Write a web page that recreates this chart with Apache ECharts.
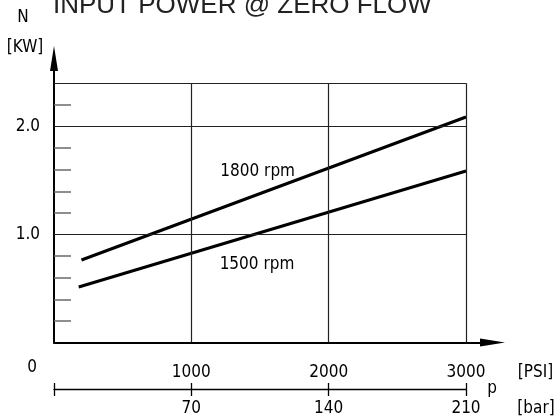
<!DOCTYPE html>
<html>
<head>
<meta charset="utf-8">
<script src="https://cdn.jsdelivr.net/npm/echarts@6/dist/echarts.min.js"></script>
<style>
  html, body { margin: 0; padding: 0; background: #fff; }
  #chart { width: 556px; height: 419px; }
</style>
</head>
<body>
<div id="chart"></div>
<script>
// Input power vs. pressure at zero flow
const titleText = 'INPUT POWER @ ZERO FLOW';

// Pressure scale [PSI] and its bar equivalent
const psiTicks = [1000, 2000, 3000];
const barTicks = [0, 70, 140, 210];
const barLabels = [70, 140, 210];

// Power scale [kW]
const kwLabels = [1, 2];
const kwMinorTicks = [0.2, 0.4, 0.6, 0.8, 1.2, 1.4, 1.6, 1.8, 2.2];
const kwFrameTop = 2.4;

// Curves: [pressure PSI, power kW]
const rpm1800 = [[200, 0.764], [3000, 2.088]];
const rpm1500 = [[180, 0.514], [3000, 1.588]];
const curveLabels = [
  { text: '1800 rpm', at: [1483, 1.58] },
  { text: '1500 rpm', at: [1478, 0.725] }
];

const FONT = "'DejaVu Sans Condensed', 'Liberation Sans', sans-serif";
const FS = 17;
const TXT = { fontFamily: FONT, fontSize: FS, color: '#000' };

const chart = echarts.init(document.getElementById('chart'), null, { renderer: 'canvas' });

// Frame lines: horizontal at 1.0, 2.0 and top; vertical at each PSI tick
const frameLines = [];
kwLabels.concat([kwFrameTop]).forEach(v => {
  frameLines.push([{ coord: [0, v] }, { coord: [psiTicks[psiTicks.length - 1], v] }]);
});
psiTicks.forEach(p => {
  frameLines.push([{ coord: [p, 0] }, { coord: [p, kwFrameTop] }]);
});

const arrowLine = {
  show: true,
  symbol: ['none', 'triangle'],
  symbolSize: [8, 25],
  lineStyle: { color: '#000', width: 2 }
};

function label(text, x, y) {
  return {
    type: 'text', x: x, y: y, silent: true,
    style: { text: text, align: 'center', verticalAlign: 'middle', font: FS + 'px ' + FONT, fill: '#000' }
  };
}

chart.setOption({
  animation: false,
  backgroundColor: '#fff',
  title: {
    text: titleText,
    left: 53,
    top: -7.5,
    padding: 0,
    textStyle: { fontFamily: "'Liberation Sans', Arial, sans-serif", fontSize: 26, fontWeight: 'normal', color: '#222' }
  },
  grid: [
    { left: 54, right: 63.5, top: 58.5, bottom: 76.5 },
    { left: 54, right: 90, bottom: 29.5, height: 20 }
  ],
  xAxis: [
    {
      type: 'value', gridIndex: 0, min: 0, max: 3193,
      axisLine: arrowLine,
      axisTick: { show: false },
      splitLine: { show: false },
      axisLabel: Object.assign({ customValues: psiTicks, margin: 22, formatter: v => String(v) }, TXT)
    },
    {
      type: 'value', gridIndex: 1, min: 0, max: 210, position: 'bottom',
      axisLine: { show: true, lineStyle: { color: '#000', width: 1.3 } },
      axisTick: { show: true, customValues: barTicks, inside: false, length: 6.5, lineStyle: { color: '#000', width: 1.3 } },
      splitLine: { show: false },
      axisLabel: Object.assign({ customValues: barLabels, margin: 10.5, formatter: v => String(v) }, TXT)
    },
    {
      type: 'value', gridIndex: 1, min: 0, max: 210, position: 'bottom',
      axisLine: { show: false },
      axisTick: { show: true, customValues: barTicks, inside: true, length: 6.5, lineStyle: { color: '#000', width: 1.3 } },
      splitLine: { show: false },
      axisLabel: { show: false }
    }
  ],
  yAxis: [
    {
      type: 'value', gridIndex: 0, min: 0, max: 2.63,
      axisLine: arrowLine,
      axisTick: { show: true, inside: true, length: 17, customValues: kwMinorTicks, lineStyle: { color: '#6a6a6a', width: 1.5 } },
      splitLine: { show: false },
      axisLabel: Object.assign({ customValues: kwLabels, margin: 14, formatter: v => v.toFixed(1) }, TXT)
    },
    { type: 'value', gridIndex: 1, min: 0, max: 1, show: false }
  ],
  series: [
    {
      name: '1800 rpm', type: 'line', xAxisIndex: 0, yAxisIndex: 0,
      data: rpm1800, symbol: 'none', silent: true,
      lineStyle: { color: '#000', width: 3 },
      markLine: {
        silent: true, symbol: ['none', 'none'], label: { show: false },
        lineStyle: { color: '#222', width: 1.2, type: 'solid' },
        emphasis: { disabled: true },
        data: frameLines
      },
      markPoint: {
        silent: true, symbol: 'circle', symbolSize: 0,
        label: Object.assign({ show: true, position: 'inside', formatter: p => p.name }, TXT),
        data: curveLabels.map(c => ({ name: c.text, coord: c.at }))
      }
    },
    {
      name: '1500 rpm', type: 'line', xAxisIndex: 0, yAxisIndex: 0,
      data: rpm1500, symbol: 'none', silent: true,
      lineStyle: { color: '#000', width: 3 }
    }
  ],
  graphic: [
    label('N', 23, 18),
    label('[KW]', 25, 48),
    label('0', 32, 368),
    label('[PSI]', 535.5, 373),
    label('p', 492, 389),
    label('[bar]', 536, 409)
  ]
});
</script>
</body>
</html>
